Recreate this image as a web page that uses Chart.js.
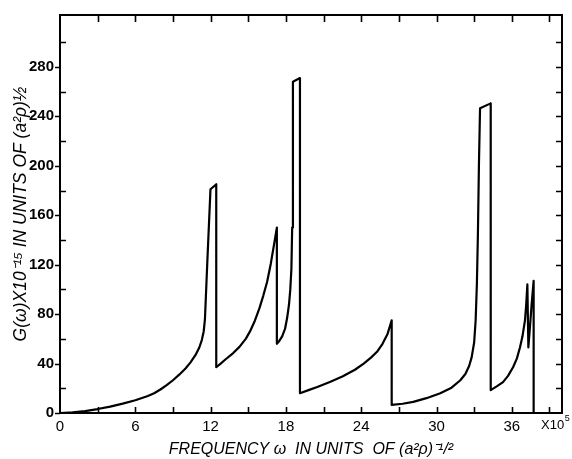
<!DOCTYPE html>
<html>
<head>
<meta charset="utf-8">
<script src="https://cdn.jsdelivr.net/npm/chart.js@4/dist/chart.umd.min.js"></script>
<style>
  html, body { margin: 0; padding: 0; background: #fff; }
  #wrap { width: 572px; height: 459px; position: relative; }
</style>
</head>
<body>
<div id="wrap"><canvas id="c" width="572" height="459"></canvas></div>
<script>
// Frequency (units of 10^5 (a^2 rho)^-1/2)
const freq = [0,1,2,3,4,5,6,7,7.5,8,8.5,9,9.5,10,10.4,10.8,11.1,11.3,11.45,11.55,11.75,11.99,12.45,12.45,
  12.8,13.2,13.8,14.3,14.8,15.14,15.5,15.9,16.2,16.5,16.8,17.05,17.28,17.28,
  17.45,17.7,17.93,18.1,18.25,18.35,18.44,18.5,18.56,19.12,19.12,
  19.8,20.5,21.5,22.5,23.5,24.2,24.8,25.3,25.7,26.1,26.43,26.43,
  27.3,28.15,29.2,30.3,31.2,31.9,32.3,32.6,32.8,33.0,33.12,33.22,33.3,33.38,33.47,34.32,34.32,
  34.8,35.3,35.7,36.1,36.4,36.65,36.85,37.05,37.15,37.24,37.32,37.45,37.58,37.74,37.74];
// G(omega) x 10^-15
const density = [0,0.5,1.5,3.2,5.2,7.6,10.3,13.8,16,19,22.5,26.5,31,36,41,47,53,59,66,76,125,181,185,37,
  40,43.5,48.5,53.5,60,66,74,85,95,106,121,136,150,56,
  58,62,68,77,88,100,117,150,268,271,16,
  18.5,21,25,29.5,35,40,45,50,56,64,75,6.5,
  7.5,9,12,16,20.5,26.5,31.5,38,45,57,75,105,145,200,246.5,250.5,18.5,
  21.5,25,30,37,44,53,62,75,88,104,53,70,88,107,0];
const xTickLabels = [0,6,12,18,24,30,36];
const yTickLabels = [0,40,80,120,160,200,240,280];
const xMinorTicks = [3,6,9,12,15,18,21,24,27,30,33,36,39];
const yMinorTicks = [20,60,100,140,180,220,260,300];
const yRightTicks = [20,40,60,80,100,120,140,160,180,200,220,240,260,280,300];

const points = freq.map((f, i) => ({x: f, y: density[i]}));

const framePlugin = {
  id: 'frame',
  afterDraw(chart) {
    const {ctx, chartArea: a, scales} = chart;
    const xs = scales.x, ys = scales.y;
    ctx.save();
    ctx.strokeStyle = '#000';
    ctx.lineWidth = 2;
    ctx.strokeRect(a.left, a.top, a.right - a.left, a.bottom - a.top);
    ctx.lineWidth = 1.6;
    ctx.beginPath();
    xMinorTicks.forEach(v => {
      const px = Math.round(xs.getPixelForValue(v)) + 0.5;
      ctx.moveTo(px, a.bottom); ctx.lineTo(px, a.bottom - 6);
      ctx.moveTo(px, a.top); ctx.lineTo(px, a.top + 7);
    });
    yTickLabels.forEach(v => {
      const py = Math.round(ys.getPixelForValue(v)) + 0.5;
      ctx.moveTo(a.left, py); ctx.lineTo(a.left - 5, py);
    });
    yMinorTicks.forEach(v => {
      const py = Math.round(ys.getPixelForValue(v)) + 0.5;
      ctx.moveTo(a.left, py); ctx.lineTo(a.left + 6, py);
    });
    yRightTicks.forEach(v => {
      const py = Math.round(ys.getPixelForValue(v)) + 0.5;
      ctx.moveTo(a.right, py); ctx.lineTo(a.right - 6, py);
    });
    ctx.stroke();
    ctx.fillStyle = '#000';
    ctx.textBaseline = 'middle';
    ctx.textAlign = 'left';
    ctx.font = '13px "Liberation Sans"';
    const x0 = a.right - 21;
    ctx.fillText('X10', x0, a.bottom + 12);
    const w = ctx.measureText('X10').width;
    ctx.font = '9px "Liberation Sans"';
    ctx.fillText('5', x0 + w + 0.5, a.bottom + 6);
    ctx.restore();
  }
};

new Chart(document.getElementById('c'), {
  type: 'line',
  data: {
    datasets: [{
      data: points,
      borderColor: '#000',
      borderWidth: 2.2,
      borderJoinStyle: 'round',
      pointRadius: 0,
      tension: 0,
      fill: false
    }]
  },
  options: {
    responsive: false,
    animation: false,
    layout: { padding: { left: 0, right: 10, top: 13, bottom: 0 } },
    plugins: { legend: { display: false }, tooltip: { enabled: false } },
    scales: {
      x: {
        type: 'linear',
        min: 0, max: 40,
        afterBuildTicks: s => { s.ticks = xTickLabels.map(v => ({value: v})); },
        afterFit: s => { s.height = 46; },
        grid: { display: false, drawTicks: false },
        border: { display: false },
        ticks: { color: '#000', padding: 5, maxRotation: 0,
          font: { family: 'Liberation Sans', size: 15 } },
        title: { display: true, text: 'FREQUENCY ω  IN UNITS  OF (a²ρ)⁻¹/²',
          color: '#000', padding: { top: 2, bottom: 0 },
          font: { family: 'Liberation Sans', size: 16, style: 'italic' } }
      },
      y: {
        type: 'linear',
        min: 0, max: 322,
        afterBuildTicks: s => { s.ticks = yTickLabels.map(v => ({value: v})); },
        afterFit: s => { s.width = 60; },
        grid: { display: false, drawTicks: false },
        border: { display: false },
        ticks: { color: '#000', padding: 6,
          font: { family: 'Liberation Sans', size: 15, weight: 'bold' } },
        title: { display: true, text: 'G(ω)X10⁻¹⁵ IN UNITS OF (a²ρ)½',
          color: '#000', padding: { top: 11, bottom: 4 },
          font: { family: 'Liberation Sans', size: 17.5, style: 'italic' } }
      }
    }
  },
  plugins: [framePlugin]
});
</script>
</body>
</html>
